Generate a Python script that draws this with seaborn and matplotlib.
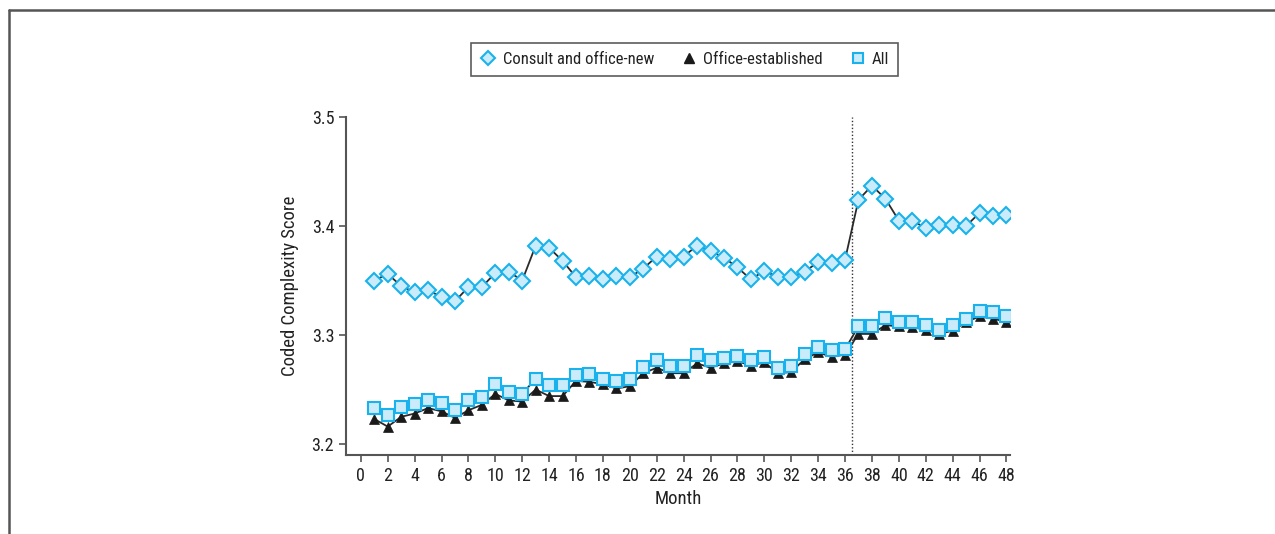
import matplotlib
matplotlib.use("Agg")
import matplotlib.pyplot as plt
from matplotlib.lines import Line2D
from matplotlib import font_manager
import seaborn as sns
import pandas as pd
import numpy as np

months = list(range(1, 49))

consult_new = [
    3.350, 3.356, 3.345, 3.339, 3.341, 3.335, 3.331, 3.344, 3.344, 3.357,
    3.358, 3.350, 3.382, 3.380, 3.368, 3.353, 3.354, 3.351, 3.354, 3.353,
    3.361, 3.372, 3.370, 3.372, 3.382, 3.377, 3.371, 3.362, 3.351, 3.359,
    3.353, 3.353, 3.358, 3.367, 3.366, 3.369, 3.424, 3.437, 3.425, 3.405,
    3.405, 3.398, 3.401, 3.401, 3.400, 3.412, 3.409, 3.410,
]
office_established = [
    3.223, 3.216, 3.225, 3.228, 3.233, 3.230, 3.224, 3.231, 3.236, 3.246,
    3.240, 3.239, 3.250, 3.244, 3.244, 3.258, 3.257, 3.255, 3.251, 3.253,
    3.265, 3.270, 3.265, 3.265, 3.274, 3.270, 3.274, 3.276, 3.272, 3.275,
    3.265, 3.266, 3.278, 3.284, 3.280, 3.282, 3.301, 3.301, 3.309, 3.308,
    3.307, 3.305, 3.301, 3.304, 3.312, 3.317, 3.315, 3.312,
]
all_visits = [
    3.233, 3.227, 3.234, 3.237, 3.240, 3.238, 3.231, 3.240, 3.243, 3.255,
    3.248, 3.246, 3.260, 3.254, 3.254, 3.263, 3.264, 3.260, 3.258, 3.260,
    3.271, 3.277, 3.272, 3.272, 3.282, 3.277, 3.279, 3.281, 3.277, 3.280,
    3.270, 3.272, 3.283, 3.289, 3.286, 3.287, 3.308, 3.308, 3.316, 3.312,
    3.312, 3.309, 3.305, 3.309, 3.315, 3.322, 3.321, 3.317,
]
series_names = ["Consult and office-new", "Office-established", "All"]
x_ticks = list(range(0, 49, 2))
y_ticks = [3.2, 3.3, 3.4, 3.5]
policy_change_month = 36.5

sns.set_theme(style="white")
# prefer a condensed sans face when one is available
available = {f.name for f in font_manager.fontManager.ttflist}
preferred = [n for n in ["Roboto Condensed", "Liberation Sans Narrow", "Open Sans Condensed",
                         "Roboto", "DejaVu Sans"] if n in available]
plt.rcParams["font.family"] = preferred or ["DejaVu Sans"]
condensed = preferred and preferred[0] in ("Roboto Condensed", "Liberation Sans Narrow",
                                           "Open Sans Condensed")
base_fs = 13 if condensed else 12

df = pd.DataFrame({
    "Month": months * 3,
    "Score": consult_new + office_established + all_visits,
    "Series": [series_names[0]] * 48 + [series_names[1]] * 48 + [series_names[2]] * 48,
})

fill_blue = "#c9ebfa"
edge_blue = "#19b2ec"
line_col = "#2a2a2a"
axis_col = "#555555"

fig = plt.figure(figsize=(12.75, 5.34), dpi=100)
ax = fig.add_axes([0.2714, 0.148, 0.5206, 0.633])

styles = {
    series_names[0]: dict(marker="D", markersize=7.8, markerfacecolor=fill_blue,
                          markeredgecolor=edge_blue, markeredgewidth=1.5, zorder=3),
    series_names[1]: dict(marker="^", markersize=7.5, markerfacecolor="#1a1a1a",
                          markeredgecolor="#1a1a1a", markeredgewidth=0.5, zorder=3),
    series_names[2]: dict(marker="s", markersize=8.2, markerfacecolor=fill_blue,
                          markeredgecolor=edge_blue, markeredgewidth=1.5, zorder=4),
}

for name in series_names:
    sub = df[df["Series"] == name]
    sns.lineplot(data=sub, x="Month", y="Score", ax=ax, color=line_col,
                 linewidth=1.3, legend=False, **styles[name])

ax.axvline(policy_change_month, color="#333333", linestyle=(0, (1, 1.5)),
           linewidth=1.0, zorder=1)

ax.set_xlim(-1.1, 48.25)
ax.set_ylim(3.19, 3.5)
ax.set_xticks(x_ticks)
ax.set_yticks(y_ticks)
ax.set_yticklabels([f"{v:.1f}" for v in y_ticks])
ax.set_xlabel("Month", fontsize=base_fs + 0.5, color="#222222", labelpad=4)
ax.set_ylabel("Coded Complexity Score", fontsize=base_fs + 0.5, color="#222222", labelpad=9)
ax.tick_params(axis="both", labelsize=base_fs, colors="#222222", length=5,
               width=1.2, direction="out", bottom=True, left=True, color=axis_col)
for side in ["top", "right"]:
    ax.spines[side].set_visible(False)
for side in ["left", "bottom"]:
    ax.spines[side].set_color(axis_col)
    ax.spines[side].set_linewidth(1.5)
ax.grid(False)

handles = [
    Line2D([], [], linestyle="none", marker="D", markersize=7, markerfacecolor=fill_blue,
           markeredgecolor=edge_blue, markeredgewidth=1.5),
    Line2D([], [], linestyle="none", marker="^", markersize=6.5, markerfacecolor="#1a1a1a",
           markeredgecolor="#1a1a1a"),
    Line2D([], [], linestyle="none", marker="s", markersize=7, markerfacecolor=fill_blue,
           markeredgecolor=edge_blue, markeredgewidth=1.5),
]
leg = fig.legend(handles, series_names, loc="center", bbox_to_anchor=(0.537, 0.888),
                 ncol=3, frameon=True, fancybox=False, fontsize=base_fs - 1,
                 handletextpad=0.35, columnspacing=1.6, borderpad=0.55,
                 handlelength=1.0)
leg.get_frame().set_edgecolor("#333333")
leg.get_frame().set_linewidth(1.2)
for t in leg.get_texts():
    t.set_color("#222222")

# partial outer frame along the top and left edges
fig.add_artist(Line2D([0.007, 1.0], [0.981, 0.981], transform=fig.transFigure,
                      color="#555555", linewidth=1.8))
fig.add_artist(Line2D([0.007, 0.007], [0.0, 0.981], transform=fig.transFigure,
                      color="#555555", linewidth=1.8))

fig.savefig("out.png", dpi=100, facecolor="white")
